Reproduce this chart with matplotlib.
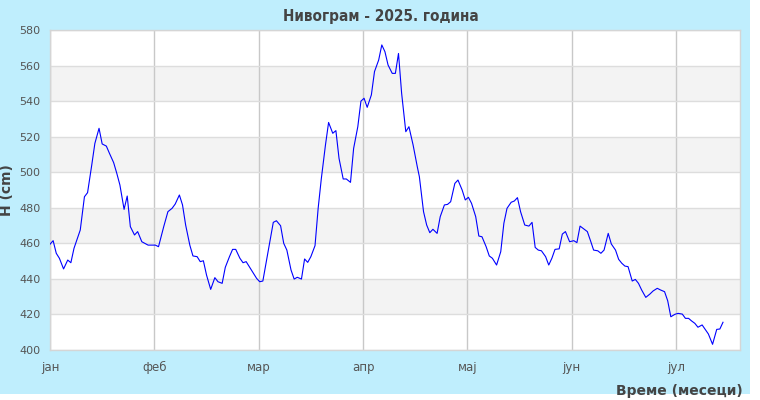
import matplotlib
matplotlib.use('Agg')
import matplotlib.pyplot as plt
from matplotlib.patches import Rectangle

# position on the x axis is in months (0 = 1. jan, 1 = 1. feb, ...)
month_labels = ['јан', 'феб', 'мар', 'апр', 'мај', 'јун', 'јул']

mesec = [
    0.00, 0.03, 0.06, 0.09, 0.13, 0.17, 0.20, 0.23, 0.29, 0.33, 0.36, 0.40,
    0.43, 0.47, 0.50, 0.54, 0.57, 0.61, 0.64, 0.67, 0.71, 0.74, 0.77, 0.81,
    0.84, 0.88, 0.94, 1.01, 1.04, 1.09, 1.13, 1.17, 1.20, 1.24, 1.27, 1.30,
    1.34, 1.37, 1.41, 1.44, 1.47, 1.50, 1.54, 1.58, 1.61, 1.65, 1.68, 1.72,
    1.75, 1.78, 1.82, 1.85, 1.88, 1.91, 1.95, 1.98, 2.01, 2.04, 2.08, 2.11,
    2.14, 2.17, 2.21, 2.24, 2.27, 2.31, 2.34, 2.37, 2.41, 2.44, 2.47, 2.50,
    2.54, 2.57, 2.60, 2.64, 2.67, 2.71, 2.74, 2.77, 2.81, 2.84, 2.88, 2.91,
    2.95, 2.98, 3.01, 3.04, 3.08, 3.11, 3.15, 3.18, 3.21, 3.24, 3.28, 3.31,
    3.34, 3.37, 3.41, 3.44, 3.48, 3.52, 3.54, 3.58, 3.61, 3.64, 3.67, 3.71,
    3.74, 3.78, 3.81, 3.84, 3.88, 3.91, 3.95, 3.98, 4.01, 4.04, 4.08, 4.11,
    4.14, 4.18, 4.21, 4.24, 4.28, 4.32, 4.35, 4.38, 4.42, 4.45, 4.48, 4.51,
    4.55, 4.59, 4.62, 4.65, 4.68, 4.71, 4.75, 4.78, 4.81, 4.84, 4.88, 4.91,
    4.94, 4.98, 5.02, 5.05, 5.08, 5.12, 5.15, 5.18, 5.21, 5.25, 5.28, 5.31,
    5.35, 5.38, 5.42, 5.45, 5.48, 5.51, 5.54, 5.58, 5.61, 5.64, 5.67, 5.71,
    5.75, 5.78, 5.82, 5.85, 5.89, 5.92, 5.95, 5.99, 6.02, 6.06, 6.09, 6.12,
    6.15, 6.18, 6.21, 6.25, 6.28, 6.31, 6.35, 6.39, 6.42, 6.45,
]

nivo = [
    459.5, 461.5, 454.4, 451.6, 445.6, 450.6, 449.1, 457.2, 467.5, 486.2,
    488.5, 504.0, 516.2, 524.7, 515.9, 514.7, 510.6, 505.4, 499.4, 492.8,
    479.1, 486.6, 469.4, 464.7, 466.6, 460.9, 459.0, 459.0, 458.1, 469.4,
    477.8, 479.7, 482.1, 487.2, 481.6, 470.3, 459.0, 452.9, 452.5, 449.7,
    450.2, 442.2, 434.1, 440.7, 438.4, 437.5, 446.5, 452.5, 456.6, 456.6,
    451.6, 449.1, 449.7, 446.9, 443.1, 440.3, 438.4, 438.8, 452.0, 462.0,
    471.8, 472.7, 469.9, 460.0, 456.2, 445.0, 439.9, 440.9, 439.9, 451.2,
    449.3, 452.5, 458.7, 479.7, 496.2, 515.3, 528.0, 521.9, 523.4, 507.8,
    496.2, 496.2, 494.3, 513.4, 525.6, 540.0, 541.6, 536.5, 543.5, 556.6,
    563.1, 571.6, 567.8, 560.3, 555.6, 555.6, 566.8, 544.4, 522.8, 525.6,
    515.3, 503.1, 497.5, 477.8, 470.3, 466.0, 467.9, 465.6, 475.0, 481.6,
    481.9, 483.4, 493.7, 495.6, 490.0, 484.4, 485.9, 482.5, 475.0, 464.1,
    463.7, 458.1, 452.9, 451.6, 447.8, 455.3, 471.3, 479.7, 483.1, 483.8,
    485.7, 477.8, 470.3, 469.7, 471.8, 457.7, 456.2, 455.8, 452.5, 447.8,
    451.6, 456.6, 456.9, 465.2, 466.6, 460.9, 461.5, 460.4, 469.7, 467.9,
    466.6, 461.5, 456.2, 455.8, 454.4, 456.2, 465.6, 459.6, 456.2, 451.0,
    448.8, 447.2, 446.9, 438.8, 439.7, 437.5, 433.8, 429.6, 431.5, 433.2,
    434.7, 433.8, 432.8, 427.7, 418.7, 420.1, 420.6, 420.2, 417.8, 417.8,
    416.3, 415.0, 412.8, 414.1, 411.6, 409.0, 403.2, 411.6, 411.8, 415.6,
]

y_ticks = list(range(400, 581, 20))

BG = '#BFEEFD'
TXT = '#444444'

fig = plt.figure(figsize=(7.6, 4.0), dpi=100, facecolor='white')
fig.patches.append(Rectangle((0, 6 / 400), 750 / 760, 394 / 400,
                             transform=fig.transFigure, facecolor=BG,
                             edgecolor='none', zorder=-10))

ax = fig.add_axes([50 / 760, 50 / 400, 690 / 760, 320 / 400])
ax.set_facecolor('white')

# alternating horizontal bands
for i, lo in enumerate(y_ticks[:-1]):
    if i % 2 == 1:
        ax.axhspan(lo, lo + 20, color='#F3F3F3', zorder=0, lw=0)

ax.plot(mesec, nivo, color='#0000FF', lw=0.8, zorder=3)

ax.set_xlim(0, 6.613)
ax.set_ylim(400, 580)
ax.set_yticks(y_ticks)
ax.set_xticks(range(len(month_labels)))
ax.set_xticklabels(month_labels)

ax.grid(axis='y', color='#DDDDDD', lw=1, zorder=1)
ax.grid(axis='x', color='#C8C8C8', lw=1, zorder=1)
ax.set_axisbelow(True)

for s in ax.spines.values():
    s.set_color('#D5D5D5')
    s.set_linewidth(1)

ax.tick_params(axis='y', length=0, pad=7, labelsize=8, labelcolor='#555555')
ax.tick_params(axis='x', length=0, pad=8, labelsize=8.5, labelcolor='#555555')

fig.text(381 / 760, 1 - 16 / 400, 'Нивограм - 2025. година', ha='center',
         va='center', fontsize=11, fontweight='bold', color=TXT,
         fontstretch='condensed')
fig.text(7 / 760, 1 - 190 / 400, 'H (cm)', ha='center', va='center',
         rotation=90, fontsize=10, fontweight='bold', color=TXT)
fig.text(743 / 760, 1 - 398 / 400, 'Време (месеци)', ha='right',
         va='bottom', fontsize=10, fontweight='bold', color=TXT)

fig.savefig('out.png', dpi=100, facecolor=fig.get_facecolor())
